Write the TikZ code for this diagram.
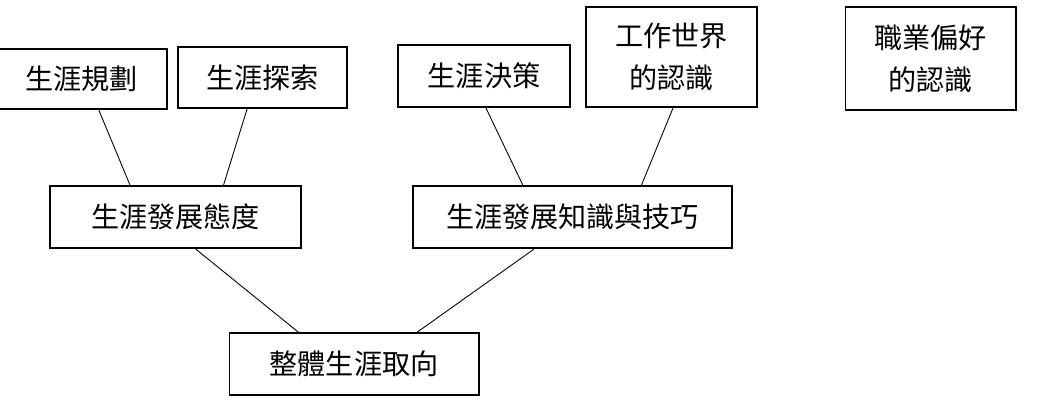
\documentclass[tikz,border=0pt]{standalone}
\usepackage{fontspec}
\setmainfont{Noto Sans CJK TC}
\usetikzlibrary{calc}
\begin{document}
\begin{tikzpicture}[x=0.02cm, y=-0.02cm,
		box/.style={draw=black, line width=0.6pt, inner sep=0pt, align=center,
			font=\fontsize{16}{24}\selectfont},
		thickbox/.style={box, line width=1.3pt},
		link/.style={black, line width=0.5pt}]
		\useasboundingbox (0, 0) rectangle (1048, 403);
		\node[thickbox, minimum width=3.42cm, minimum height=1.2cm] (plan) at (81.5, 79) {生涯規劃};
		\node[box, minimum width=3.38cm, minimum height=1.22cm] (explore) at (262.5, 77.5) {生涯探索};
		\node[box, minimum width=3.44cm, minimum height=1.24cm] (decide) at (484, 76) {生涯決策};
		\node[box, minimum width=3.42cm, minimum height=2cm] (world) at (671.5, 57) {工作世界\\的認識};
		\node[box, minimum width=3.42cm, minimum height=2.06cm] (prefer) at (930.5, 58.5) {職業偏好\\的認識};
		\node[thickbox, minimum width=5.02cm, minimum height=1.24cm] (attitude) at (175.5, 217) {生涯發展態度};
		\node[thickbox, minimum width=6.38cm, minimum height=1.24cm] (skill) at (572.5, 217) {生涯發展知識與技巧};
		\node[box, minimum width=5cm, minimum height=1.24cm] (whole) at (354, 364) {整體生涯取向};
		\draw[link] ($(plan.south west)!0.6!(plan.south east)$) -- ($(attitude.north west)!0.32!(attitude.north east)$);
		\draw[link] ($(explore.south west)!0.41!(explore.south east)$) -- ($(attitude.north west)!0.69!(attitude.north east)$);
		\draw[link] ($(decide.south west)!0.51!(decide.south east)$) -- ($(skill.north west)!0.345!(skill.north east)$);
		\draw[link] ($(world.south west)!0.51!(world.south east)$) -- ($(skill.north west)!0.715!(skill.north east)$);
		\draw[link] ($(attitude.south west)!0.58!(attitude.south east)$) -- ($(whole.north west)!0.28!(whole.north east)$);
		\draw[link] ($(skill.south west)!0.38!(skill.south east)$) -- ($(whole.north west)!0.75!(whole.north east)$);
	\end{tikzpicture}
\end{document}
